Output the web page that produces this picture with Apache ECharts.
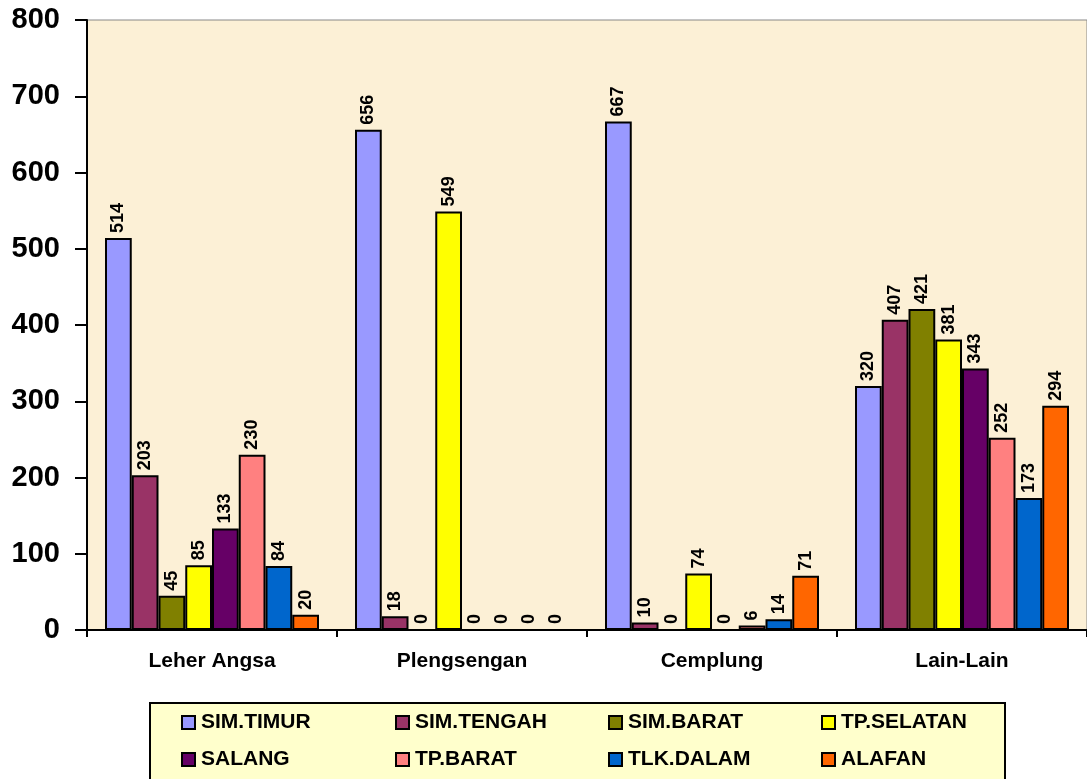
<!DOCTYPE html>
<html><head><meta charset="utf-8">
<script src="https://cdn.jsdelivr.net/npm/echarts@6/dist/echarts.min.js"></script>
<style>html,body{margin:0;padding:0;background:#fff}#c{width:1087px;height:779px}</style>
</head><body><div id="c"></div>
<script>
const categories = ['Leher Angsa', 'Plengsengan', 'Cemplung', 'Lain-Lain'];
const seriesNames = ['SIM.TIMUR', 'SIM.TENGAH', 'SIM.BARAT', 'TP.SELATAN', 'SALANG', 'TP.BARAT', 'TLK.DALAM', 'ALAFAN'];
const simTimur  = [514, 656, 667, 320];
const simTengah = [203, 18, 10, 407];
const simBarat  = [45, 0, 0, 421];
const tpSelatan = [85, 549, 74, 381];
const salang    = [133, 0, 0, 343];
const tpBarat   = [230, 0, 6, 252];
const tlkDalam  = [84, 0, 14, 173];
const alafan    = [20, 0, 71, 294];
const yTicks = [0, 100, 200, 300, 400, 500, 600, 700, 800];
const colors = ['#9999FF', '#993366', '#808000', '#FFFF00', '#660066', '#FF8080', '#0066CC', '#FF6600'];
const values = [simTimur, simTengah, simBarat, tpSelatan, salang, tpBarat, tlkDalam, alafan];

const font = 'Arial, "Liberation Sans", sans-serif';
const chart = echarts.init(document.getElementById('c'), null, {renderer: 'canvas'});

const series = seriesNames.map((n, i) => ({
  name: n, type: 'bar', data: values[i],
  barGap: '0%', barCategoryGap: '14.4%',
  itemStyle: {color: colors[i], borderColor: '#000', borderWidth: 2},
  label: {show: true, position: 'top', rotate: 90, align: 'left', verticalAlign: 'middle', distance: 5,
    color: '#000', fontWeight: 'bold', fontSize: 18, fontFamily: font},
  emphasis: {disabled: true}
}));

const legendPos = [[181, 712], [395, 712], [608, 712], [821, 712], [181, 749], [395, 749], [608, 749], [821, 749]];
const legends = seriesNames.map((n, i) => ({
  left: legendPos[i][0], top: legendPos[i][1], padding: 0,
  itemWidth: 13, itemHeight: 13, itemGap: 0, icon: 'rect',
  textStyle: {fontFamily: font, fontWeight: 'bold', fontSize: 21, color: '#000', padding: [0, 0, 0, 1]},
  itemStyle: {borderColor: '#000', borderWidth: 2},
  selectedMode: false, data: [n]
}));

chart.setOption({
  animation: false,
  backgroundColor: '#fff',
  grid: {left: 87, right: 0, top: 20, bottom: 149, show: true, backgroundColor: '#FCF0D6', borderColor: '#888', borderWidth: 1},
  xAxis: {
    type: 'category', data: categories,
    axisLine: {lineStyle: {color: '#000', width: 2}},
    axisTick: {show: true, length: 7, lineStyle: {color: '#000', width: 2}},
    axisLabel: {margin: 21, color: '#000', fontWeight: 'bold', fontSize: 21, fontFamily: font}
  },
  yAxis: {
    type: 'value', min: yTicks[0], max: yTicks[yTicks.length - 1], interval: 100,
    splitLine: {show: false},
    axisLine: {show: true, lineStyle: {color: '#000', width: 2}},
    axisTick: {show: true, length: 12, lineStyle: {color: '#000', width: 2}},
    axisLabel: {margin: 27, color: '#000', fontWeight: 'bold', fontSize: 29, fontFamily: font}
  },
  graphic: [{type: 'rect', shape: {x: 150, y: 703, width: 855, height: 95},
    style: {fill: '#FFFFCC', stroke: '#000', lineWidth: 2}, z: 0}],
  legend: legends,
  series: series
});
</script></body></html>
